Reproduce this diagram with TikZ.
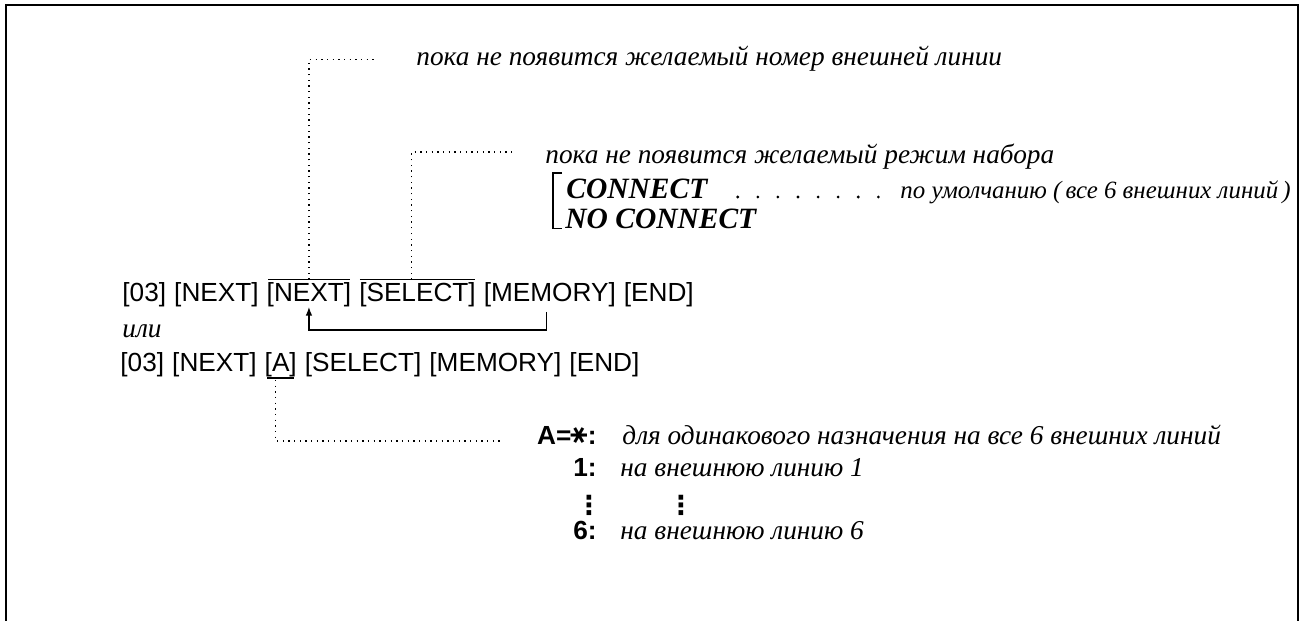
\documentclass[tikz,border=0pt]{standalone}
\usepackage{fontspec}
\usepackage{graphicx}
\setmainfont{Liberation Serif}
\setsansfont{Liberation Sans}
\newfontfamily\starfont{DejaVu Sans}
\usetikzlibrary{arrows.meta,positioning,calc}

\begin{document}
\begin{tikzpicture}[
  x=0.458pt, y=-0.458pt,
  node distance=3.3pt,
  key/.style={font=\sffamily\fontsize{12}{14}\selectfont, inner sep=0pt, anchor=base west},
  note/.style={font=\itshape\fontsize{12.5}{15}\selectfont, inner sep=0pt, anchor=base west},
  mode/.style={font=\bfseries\itshape\fontsize{13.5}{16}\selectfont, inner sep=0pt, anchor=base west},
  code/.style={font=\sffamily\bfseries\fontsize{12}{14}\selectfont, inner sep=0pt, anchor=base east},
  vdot/.style={font=\starfont\bfseries\fontsize{12}{14}\selectfont, inner sep=0pt},
  lead/.style={dotted, line width=0.6pt},
  bar/.style={line width=0.6pt},
  dotrow/.style={line width=1.4pt, line cap=round, dash pattern=on 0pt off 9.2pt},
  ret/.style={line width=0.6pt, -{Latex[length=4pt,width=3pt]}}
]
  \useasboundingbox (0,0) rectangle (1304,621);
  \draw[line width=0.8pt] (6,621) -- (6,5) -- (1298,5) -- (1298,621);

  % first key sequence
  \node[key] (a1) at (122,301) {[03]};
  \node[key, base right=of a1] (a2) {[NEXT]};
  \node[key, base right=of a2] (a3) {[NEXT]};
  \node[key, base right=of a3] (a4) {[SELECT]};
  \node[key, base right=of a4] (a5) {[MEMORY]};
  \node[key, base right=of a5] (a6) {[END]};
  \node[note] (or) at (122,337) {или};
  % second key sequence
  \node[key] (b1) at (120,371) {[03]};
  \node[key, base right=of b1] (b2) {[NEXT]};
  \node[key, base right=of b2] (b3) {[A]};
  \node[key, base right=of b3] (b4) {[SELECT]};
  \node[key, base right=of b4] (b5) {[MEMORY]};
  \node[key, base right=of b5] (b6) {[END]};

  \node[note] (n1) at (416,66) {пока не появится желаемый номер внешней линии};
  \node[note] (n2) at (545,163) {пока не появится желаемый режим набора};
  \node[mode] (m1) at (566,198) {CONNECT};
  \node[mode] (m2) at (565,228) {NO CONNECT};
  \node[note, font=\itshape\fontsize{11.4}{14}\selectfont] (d1) at (900,198) {по умолчанию (\,все 6 внешних линий\,)};

  \node[code] (v0) at (597,444) {A={\starfont\rotatebox[origin=c]{90}{∗}}:};
  \node[note] (w0) at (622,444) {для одинакового назначения на все 6 внешних линий};
  \node[code] (v1) at (597,476) {1:};
  \node[note] (w1) at (620,476) {на внешнюю линию 1};
  \node[vdot] (k1) at (589,505) {⋮};
  \node[vdot] (k2) at (681,505) {⋮};
  \node[code] (v6) at (597,539) {6:};
  \node[note] (w6) at (620,539) {на внешнюю линию 6};

  \draw[bar] ($(a3.north west)+(2,-2)$) -- ($(a3.north east)+(-2,-2)$);
  \draw[bar] ($(a4.north west)+(1,-2)$) -- ($(a4.north east)+(-1,-2)$);
  \draw[bar] ($(b3.south west)+(3,1)$) -- ($(b3.south east)+(-3,1)$);

  \coordinate (t1) at ($(n1.west)+(-40,0)$);
  \coordinate (t2) at ($(n2.west)+(-31,-4)$);
  \coordinate (t3) at ($(v0.base west)+(-35,-3)$);
  \draw[lead] ($(a3.north)+(0,-2)$) |- (t1);
  \draw[lead] ($(a4.north)+(-6,-2)$) |- (t2);
  \draw[lead] ($(b3.south)+(-5,3)$) |- (t3);

  \coordinate (rb) at ($(a3.south)+(0,23)$);
  \draw[ret] ($(a5.south)+(-3,5)$) |- (rb) -- (a3.south);

  \draw[bar] ($(m1.north west)+(-4,-5)$) -- ($(m1.north west)+(-13,-5)$) |- ($(m2.south west)+(-3,0)$);
  \draw[dotrow] ($(m1.base east)+(30,-1)$) -- ($(d1.base west)+(-14,-1)$);
\end{tikzpicture}
\end{document}
